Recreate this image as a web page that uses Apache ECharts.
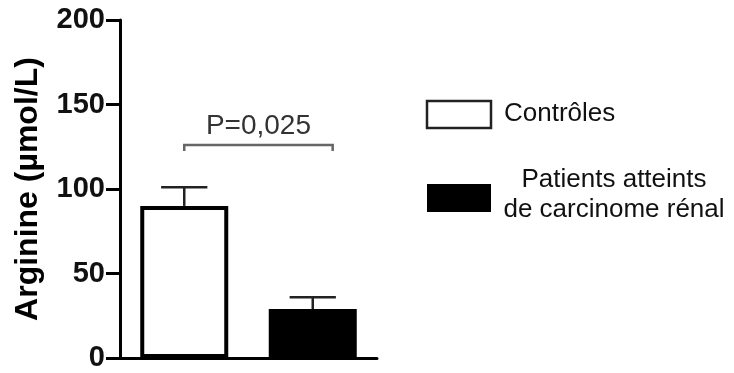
<!DOCTYPE html>
<html>
<head>
<meta charset="utf-8">
<script src="https://cdn.jsdelivr.net/npm/echarts@6/dist/echarts.min.js"></script>
<style>html,body{margin:0;padding:0;background:#fff;}#c{width:734px;height:373px;}</style>
</head>
<body>
<div id="c"></div>
<script>
const categories = ['Contrôles', 'Patients atteints de carcinome rénal'];
const legendLabels = ['Contrôles', 'Patients atteints\nde carcinome rénal'];
const means = [90, 29];
const errUpper = [101, 36];
const yTicks = [0, 50, 100, 150, 200];
const pLabel = 'P=0,025';
const bracketLevel = 126;
const barColors = ['#ffffff', '#000000'];

const FONT = '"Liberation Sans", Arial, Helvetica, sans-serif';
const chart = echarts.init(document.getElementById('c'), null, {renderer: 'canvas'});

const errData = means.map((m, i) => [i, m, errUpper[i]]);

chart.setOption({
  animation: false,
  backgroundColor: '#ffffff',
  grid: {left: 120, top: 20, width: 257, height: 338, outerBoundsMode: 'none', containLabel: false},
  xAxis: {
    type: 'category',
    data: categories,
    axisLine: {lineStyle: {color: '#000', width: 3}},
    axisTick: {alignWithLabel: true, length: 8, lineStyle: {color: '#000', width: 3}},
    axisLabel: {show: false},
    splitLine: {show: false}
  },
  yAxis: {
    type: 'value',
    min: yTicks[0], max: yTicks[yTicks.length - 1], interval: 50,
    name: 'Arginine (µmol/L)',
    nameLocation: 'middle',
    nameRotate: 90,
    nameGap: 76,
    nameTextStyle: {fontFamily: FONT, fontWeight: 'bold', fontSize: 32, color: '#000'},
    axisLine: {show: true, lineStyle: {color: '#000', width: 3}},
    axisTick: {show: true, length: 14, lineStyle: {color: '#000', width: 3}},
    axisLabel: {fontFamily: FONT, fontWeight: 'bold', fontSize: 29, color: '#111', margin: 15},
    splitLine: {show: false}
  },
  series: [
    {
      type: 'bar',
      data: means.map((v, i) => ({value: v, itemStyle: {color: barColors[i], borderColor: '#000', borderWidth: 4}})),
      barWidth: 88,
      z: 2
    },
    {
      type: 'custom',
      data: errData,
      z: 3,
      renderItem: function (params, api) {
        const base = api.coord([api.value(0), api.value(1)]);
        const top = api.coord([api.value(0), api.value(2)]);
        const half = api.size([1, 0])[0] * 0.18;
        const st = {stroke: '#222', lineWidth: 2.5};
        return {
          type: 'group',
          children: [
            {type: 'line', shape: {x1: base[0], y1: base[1], x2: top[0], y2: top[1]}, style: st},
            {type: 'line', shape: {x1: top[0] - half, y1: top[1], x2: top[0] + half, y2: top[1]}, style: st}
          ]
        };
      }
    },
    {
      type: 'custom',
      data: [[0, 1, bracketLevel]],
      z: 3,
      renderItem: function (params, api) {
        const p1 = api.coord([api.value(0), api.value(2)]);
        const p2 = api.coord([api.value(1), api.value(2)]);
        const band = api.size([1, 0])[0];
        const x1 = p1[0];
        const x2 = p2[0] + band * 0.155;
        const y = p1[1];
        const st = {stroke: '#666', lineWidth: 2.5, fill: null};
        return {
          type: 'group',
          children: [
            {type: 'polyline', shape: {points: [[x1, y + 6], [x1, y], [x2, y], [x2, y + 6]]}, style: st},
            {type: 'text', style: {text: pLabel, x: (x1 + x2) / 2, y: y - 19, align: 'center', verticalAlign: 'middle',
              font: 'normal 28px ' + FONT, fill: '#333'}}
          ]
        };
      }
    }
  ],
  graphic: [
    {type: 'rect', shape: {x: 427, y: 101, width: 64, height: 27}, style: {fill: barColors[0], stroke: '#222', lineWidth: 2.5}},
    {type: 'text', style: {text: legendLabels[0], x: 504, y: 114, verticalAlign: 'middle', font: 'normal 26px ' + FONT, fill: '#111'}},
    {type: 'rect', shape: {x: 427, y: 184, width: 64, height: 28}, style: {fill: barColors[1]}},
    {type: 'text', style: {text: legendLabels[1], x: 614, y: 195, align: 'center', verticalAlign: 'middle', lineHeight: 30, font: 'normal 26px ' + FONT, fill: '#111'}}
  ]
});
</script>
</body>
</html>
